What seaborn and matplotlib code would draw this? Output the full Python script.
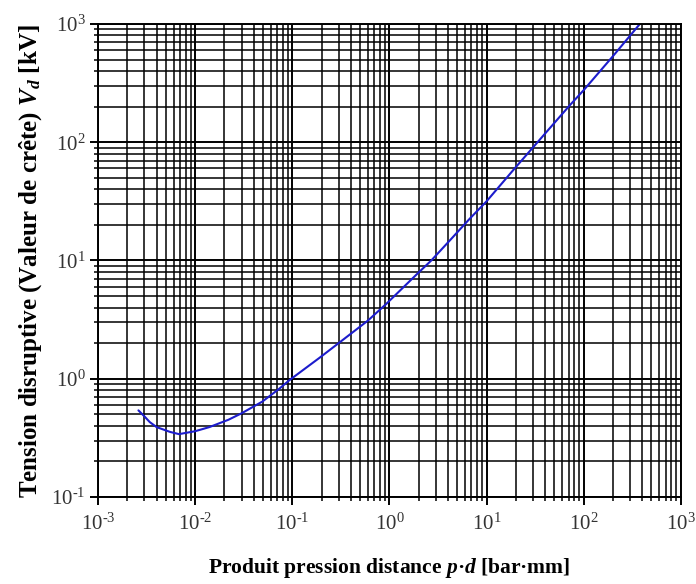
import numpy as np
import pandas as pd
import seaborn as sns
import matplotlib.pyplot as plt
from matplotlib.ticker import LogLocator, NullFormatter, FuncFormatter

# Paschen-type breakdown curve
pd_values = [0.0026, 0.003, 0.0034, 0.004, 0.0055, 0.0068, 0.01, 0.014, 0.022, 0.03,
             0.049, 0.073, 0.093, 0.19, 0.3, 0.6, 0.93, 1.9, 2.7, 4.2,
             6.7, 10, 19.5, 40, 72, 100, 199, 380]
vd_values = [0.54, 0.48, 0.43, 0.39, 0.355, 0.34, 0.36, 0.39, 0.45, 0.51,
             0.64, 0.82, 0.97, 1.5, 2.0, 3.1, 4.3, 7.6, 10, 14.8,
             22.5, 31.6, 60, 118, 205, 275, 530, 1000]

data = pd.DataFrame({'pd': pd_values, 'vd': vd_values})

sns.set_theme(style="white")
plt.rcParams['font.family'] = ['Liberation Serif', 'DejaVu Serif']
plt.rcParams['mathtext.fontset'] = 'custom'
plt.rcParams['mathtext.rm'] = 'Liberation Serif'
plt.rcParams['mathtext.it'] = 'Liberation Serif:italic'
plt.rcParams['mathtext.bf'] = 'Liberation Serif:bold'
plt.rcParams['mathtext.bfit'] = 'Liberation Serif:italic:bold'

fig = plt.figure(figsize=(6.96, 5.84), dpi=100)
ax = fig.add_axes([0.141, 0.149, 0.837, 0.810])

sns.lineplot(data=data, x='pd', y='vd', color='#1c1ccc', linewidth=1.5, ax=ax, sort=True)

ax.set_xscale('log')
ax.set_yscale('log')
ax.set_xlim(1e-3, 1e3)
ax.set_ylim(1e-1, 1e3)

def pow_label(v, pos):
    e = int(round(np.log10(v)))
    s = str(e).replace('-', '‐')
    return r'$10^{' + s + '}$'

ax.xaxis.set_major_locator(LogLocator(base=10, numticks=10))
ax.yaxis.set_major_locator(LogLocator(base=10, numticks=10))
ax.xaxis.set_minor_locator(LogLocator(base=10, subs=np.arange(2, 10), numticks=20))
ax.yaxis.set_minor_locator(LogLocator(base=10, subs=np.arange(2, 10), numticks=20))
ax.xaxis.set_major_formatter(FuncFormatter(pow_label))
ax.yaxis.set_major_formatter(FuncFormatter(pow_label))
ax.xaxis.set_minor_formatter(NullFormatter())
ax.yaxis.set_minor_formatter(NullFormatter())

ax.grid(True, which='major', color='black', linewidth=1.4)
ax.grid(True, which='minor', color='black', linewidth=1.1)
ax.set_axisbelow(True)

ax.tick_params(which='major', direction='out', color='black', length=6, width=1.4,
               bottom=True, left=True, labelsize=15, labelcolor='#333333')
ax.tick_params(which='minor', direction='out', color='black', length=3, width=1.1,
               bottom=True, left=True)
ax.tick_params(axis='x', which='major', pad=6)
ax.tick_params(axis='y', which='major', pad=3)
for s in ax.spines.values():
    s.set_color('black')
    s.set_linewidth(1.4)

ax.set_xlabel('Produit pression distance $\\mathbfit{p}$·$\\mathbfit{d}$ [bar·mm]',
              fontsize=15.5, fontweight='bold', color='black')
ax.set_ylabel('Tension disruptive (Valeur de crête) $\\mathbfit{V_d}$ [kV]',
              fontsize=18, fontweight='bold', color='black')
ax.xaxis.set_label_coords(0.5, -0.125)
ax.yaxis.set_label_coords(-0.093, 0.499)

fig.savefig('out.png', dpi=100)
